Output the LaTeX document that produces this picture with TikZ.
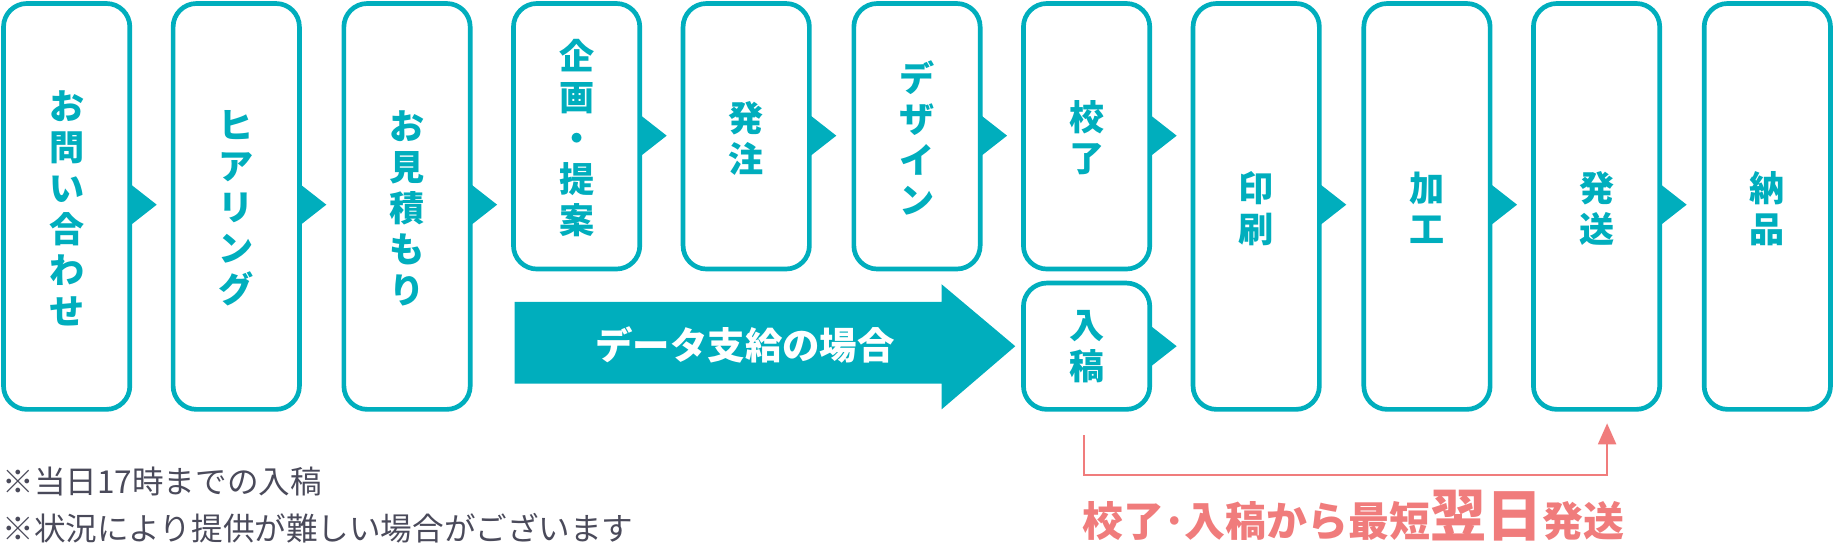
\documentclass[tikz,border=0pt]{standalone}
\usepackage{fontspec}
\setmainfont{Noto Sans CJK JP}
\definecolor{tl}{RGB}{0,174,189}
\definecolor{sal}{RGB}{240,124,124}
\definecolor{gr}{RGB}{74,74,90}
\begin{document}
\begin{tikzpicture}[x=1pt,y=-1pt,
  stepbox/.style={draw=tl,line width=4pt,rounded corners=20pt,fill=white,inner sep=0pt},
  lbl/.style={text=tl,font=\fontsize{30}{35}\selectfont\bfseries,align=center}]
\useasboundingbox (0,0) rectangle (1568,468);
% boxes
\foreach \x in {3,148,294,1020,1166,1311}{
  \draw[stepbox] (\x,3) rectangle ++(108,347);
  \fill[tl] (\x+108,157) -- (\x+131,175) -- (\x+108,193) -- cycle;}
\draw[stepbox] (1457,3) rectangle ++(108,347);
\foreach \x in {439,584,730}{
  \draw[stepbox] (\x,3) rectangle ++(108,227);
  \fill[tl] (\x+108,98) -- (\x+131,116) -- (\x+108,134) -- cycle;}
\draw[stepbox] (875,3) rectangle ++(108,227);
\fill[tl] (983,98) -- (1006,116) -- (983,134) -- cycle;
\draw[stepbox] (875,242) rectangle ++(108,108);
\fill[tl] (983,278) -- (1006,296) -- (983,314) -- cycle;
% labels
\node[lbl] (a1) at (57,178) {お\\問\\い\\合\\わ\\せ};
\node[lbl] (a2) at (202,178) {ヒ\\ア\\リ\\ン\\グ};
\node[lbl] (a3) at (348,178) {お\\見\\積\\も\\り};
\node[lbl] (a4) at (493,118) {企\\画\\・\\提\\案};
\node[lbl] (a5) at (638,118) {発\\注};
\node[lbl] (a6) at (784,118) {デ\\ザ\\イ\\ン};
\node[lbl] (a7) at (929,118) {校\\了};
\node[lbl] (a7b) at (929,296) {入\\稿};
\node[lbl] (a8) at (1074,178) {印\\刷};
\node[lbl] (a9) at (1220,178) {加\\工};
\node[lbl] (a10) at (1365,178) {発\\送};
\node[lbl] (a11) at (1511,178) {納\\品};
% big arrow
\fill[tl] (440,258) -- (805,258) -- (805,243) -- (868,296) -- (805,350) -- (805,328) -- (440,328) -- cycle;
\node[text=white,font=\fontsize{32}{36}\selectfont\bfseries] (big) at (637,295) {データ支給の場合};
% bracket
\coordinate (b1) at (927,372);
\draw[sal,line width=2pt] (b1) -- (927,406) -- (1374,406) -- (1374,378);
\fill[sal] (1366,380) -- (1374,362) -- (1382,380) -- cycle;
\node[text=sal,font=\fontsize{35}{38}\selectfont\bfseries,anchor=base west,inner sep=0pt] (red) at (925,459) {校了･入稿から最短{\fontsize{48}{50}\selectfont 翌日}発送};
% notes
\node[text=gr,font=\fontsize{27}{30}\selectfont,anchor=base west,inner sep=0pt] (n1) at (2,422) {※当日17時までの入稿};
\node[text=gr,font=\fontsize{27}{30}\selectfont,anchor=base west,inner sep=0pt] (n2) at (2,462) {※状況により提供が難しい場合がございます};
\end{tikzpicture}
\end{document}
